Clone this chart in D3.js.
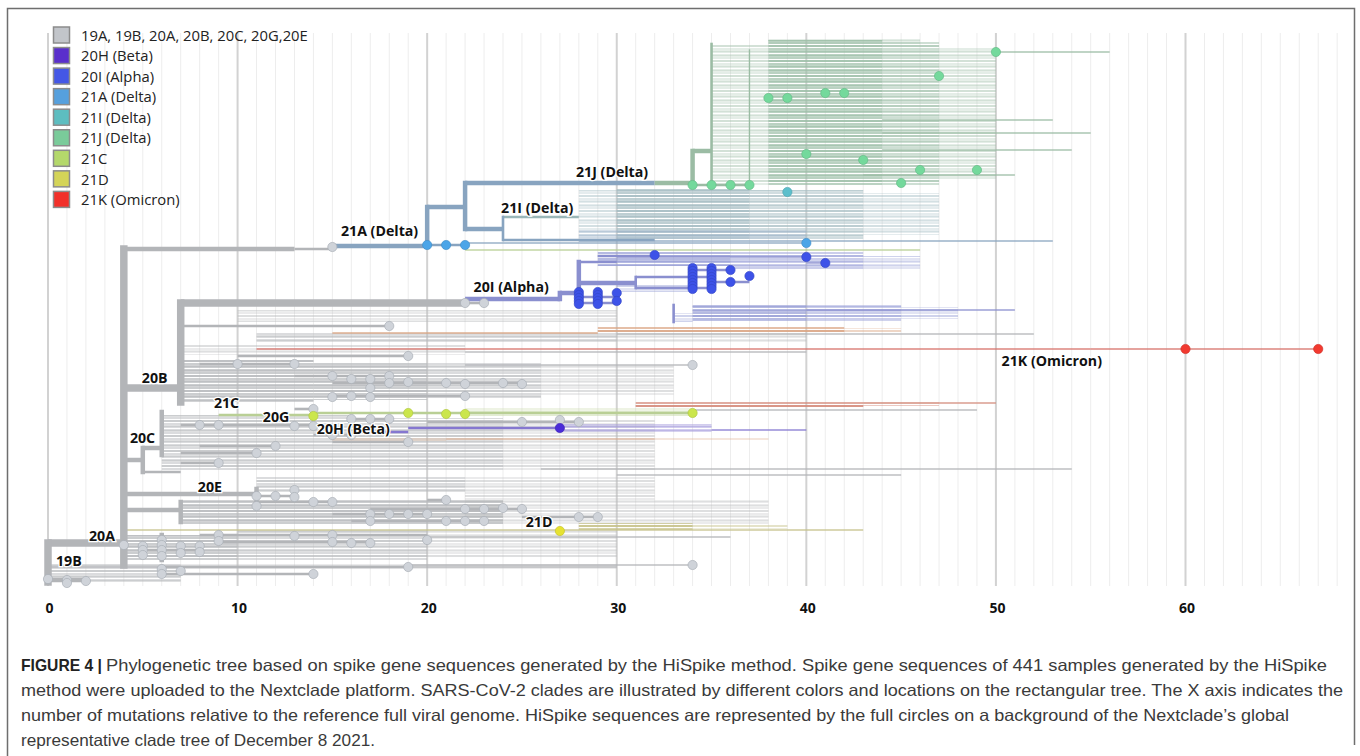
<!DOCTYPE html>
<html><head><meta charset="utf-8">
<script src="https://cdn.jsdelivr.net/npm/d3@7"></script>
<style>body{margin:0;background:#fff}svg{display:block}</style>
</head><body><svg id="c" width="1360" height="756"></svg>
<script>
// ---------------- DATA ----------------
const legendLabels = ["19A, 19B, 20A, 20B, 20C, 20G,20E","20H (Beta)","20I (Alpha)","21A (Delta)","21I (Delta)","21J (Delta)","21C","21D","21K (Omicron)"];
const legendClades = ["base","20H","20I","21A","21I","21J","21C","21D","21K"];
const xTicks = [0,10,20,30,40,50,60];

// horizontal branches: [clade, x0 (mutations), x1, row, rank]
const stems = [
 ["base",0,4,513,1],["base",0,2,550,2],["base",0,30,537,4],["base",6,14,544,3],["base",6,19,537,3],["base",19,34,535,4],
 ["base",4,13,219,2],["base",13,15,219,3],["base",4,7,358,1],["base",7,22,273,1],["base",22,23,273,3],
 ["base",4,5,430,2],["base",5,6,418,2],["base",5,7,442,3],["base",4,11,464,2],["base",4,7,480,2],
 ["base",7,18,296,3],["base",10,19,326,3],["base",8,13,334,3],["base",13,18,346,3],["base",15,25,353,3],["base",15,22,366,3],["base",22,34,335,4],
 ["base",7,14,395,3],["base",14,16,405,3],["base",15,19,412,3],["base",20,28,392,3],["base",8,12,416,3],["base",7,11,423,3],["base",7,9,433,3],["base",13,14,379,3],["base",16,18,389,3],
 ["base",11,13,466,3],["base",11,15,472,3],["base",17,25,479,3],["base",15,20,484,3],["base",16,23,491,3],["base",25,29,487,3],["base",20,21,470,3],
 ["base",8,20,505,3],["base",9,17,512,3],["base",5,8,520,3],
 ["base",30,52,304,4],["base",22,40,322,4],["base",34,49,380,4],["base",26,54,439,4],["base",30,45,445,4],["base",20,36,507,4],
 ["21A",15,20,216,2],["21A",20,22,177,2],["21A",22,32,153,2],["21A",22,24,199,2],["21A",20,22,215,3],["21A",22,40,213,4],["21A",24,32,210,3],["21A",28,53,211,4],
 ["21I",24,28,187,3],
 ["21J",32,34,153,2],["21J",34,35,121,2],["21J",34,37,155,3],["21J",50,56,22,4],["21J",44,53,90,4],["21J",44,55,103,4],["21J",44,54,120,4],["21J",43,51,145,4],
 ["21C",22,46,220,4],["21C",9,14,385,3],["21C",14,34,383,3],
 ["20I",22,27,269,2],["20I",27,28,263,2],["20I",28,30,267,3],["20I",28,30,273,3],["20I",28,30,232,3],["20I",29,32,226,3],["20I",28,31,253,2],
 ["20I",31,35,247,3],["20I",31,35,258,3],["20I",34,36,240,3],["20I",35,37,252,3],["20I",40,41,233,4],["20I",40,51,280,4],["20I",30,40,227,4],
 ["20H",16,19,402,3],["20H",19,27,398,3],["20H",35,40,400,4],
 ["21D",4,43,500,4],
 ["21K",11,55,319,4],["21K",55,67,319,4],
 ["20J",15,29,303,4],["21B",43,50,373,4]
];
// vertical links: [clade, x, row0, row1, rank]
const links = [
 ["base",0,513,552,1],["base",4,219,535,1],["base",7,273,372,1],["base",5,418,442,2],["base",6,382,425,2],
 ["base",7,472,492,2],["base",11,459,476,2],["base",6,505,530,2],
 ["21A",20,177,216,2],["21A",22,153,199,2],["21A",24,187,210,3],
 ["21J",34,121,155,2],["21J",35,14,155,3],["21J",37,20,150,4],
 ["20I",27,263,269,2],["20I",28,232,273,2],["20I",31,247,258,3],["20I",33,275,292,3]
];
// dense tip bundles: [clade, x0, x1, row0, row1, density 1..3]
const bundles = [
 ["base",7,14,330,372,3],["base",14,20,332,370,3],["base",20,26,333,368,2],["base",26,33,335,365,1],
 ["base",10,30,280,292,1],["base",11,30,303,312,2],["base",30,40,303,312,1],["base",7,22,315,325,1],
 ["base",6,16,385,440,2],["base",16,24,388,440,2],["base",24,32,390,440,1],
 ["base",11,22,447,462,2],["base",7,24,470,495,3],["base",22,32,447,495,1],["base",32,38,470,495,1],
 ["base",4,10,505,530,3],["base",10,20,500,530,2],["base",20,30,500,528,1],["base",0,7,533,552,2],["base",7,30,533,540,1],
 ["21J",35,38,14,155,1],["21J",38,44,10,155,3],["21J",44,47,12,155,2],["21J",47,50,18,150,1],["21J",38,46,8,14,1],
 ["21I",28,30,160,208,1],["21I",30,37,158,210,3],["21I",37,43,160,210,2],["21I",43,47,163,205,1],
 ["21A",28,40,200,210,1],
 ["20I",29,36,222,236,3],["20I",36,43,222,240,2],["20I",43,46,226,240,1],["20I",30,34,254,262,1],["20I",33,34,283,292,1],
 ["20I",34,40,275,291,3],["20I",40,45,275,291,2],["20I",45,48,277,289,1],
 ["20J",29,42,297,303,3],["20J",42,45,298,302,1],["20J",15,21,407,411,1],["20J",21,32,407,410,2],["20J",32,38,408,410,1],
 ["21B",31,43,372,377,3],["21B",43,47,372,376,1],
 ["20H",27,35,394,402,2],["21C",22,34,378,386,1],
 ["21D",28,34,493,500,3],["21D",34,39,494,499,1]
];
// HiSpike samples: [clade, x, row]
const samples = [
 ["base",15,217],["base",22,273],["base",23,273],
 ["base",18,296],["base",19,326],["base",10,334],["base",13,334],["base",15,346],["base",16,349],["base",17,349],["base",18,346],["base",18,353],["base",19,352],["base",21,353],["base",22,354],["base",24,353],["base",25,354],["base",15,367],["base",16,366],["base",17,367],["base",22,366],["base",17,358],["base",34,335],
 ["base",14,379],["base",8,395],["base",9,395],["base",13,396],["base",14,396],["base",16,389],["base",17,389],["base",18,389],["base",15,405],["base",16,405],["base",19,412],["base",25,392],["base",27,390],["base",28,392],["base",12,416],["base",11,423],["base",9,433],
 ["base",11,466],["base",12,466],["base",13,460],["base",13,467],["base",11,476],["base",14,472],["base",15,472],["base",21,470],["base",22,479],["base",23,479],["base",24,478],["base",25,479],["base",17,484],["base",18,484],["base",19,484],["base",20,484],["base",17,491],["base",21,491],["base",22,491],["base",23,491],["base",28,487],["base",29,487],
 ["base",4,515],["base",5,516],["base",5,520],["base",5,525],["base",6,510],["base",6,515],["base",6,520],["base",6,526],["base",7,516],["base",7,523],["base",8,516],["base",8,522],["base",9,505],["base",9,511],["base",13,506],["base",15,505],["base",15,512],["base",16,513],["base",17,513],["base",20,510],
 ["base",6,539],["base",6,544],["base",7,541],["base",14,544],["base",19,537],["base",34,535],["base",0,549],["base",1,550],["base",1,553],["base",2,551],
 ["21A",20,215],["21A",21,215],["21A",22,215],["21A",40,213],
 ["21I",39,162],
 ["21J",50,22],["21J",47,46],["21J",38,68],["21J",39,68],["21J",41,63],["21J",42,63],["21J",40,124],["21J",43,130],["21J",46,140],["21J",49,140],["21J",45,153],["21J",34,155],["21J",35,155],["21J",36,155],["21J",37,155],
 ["20I",28,262],["20I",28,265],["20I",28,268],["20I",28,271],["20I",28,274],["20I",29,262],["20I",29,265],["20I",29,268],["20I",29,271],["20I",29,274],["20I",30,263],["20I",30,271],
 ["20I",34,238],["20I",34,241],["20I",34,244],["20I",34,247],["20I",34,250],["20I",34,253],["20I",34,256],["20I",34,259],
 ["20I",35,238],["20I",35,241],["20I",35,244],["20I",35,247],["20I",35,250],["20I",35,253],["20I",35,256],["20I",35,259],
 ["20I",36,240],["20I",36,252],["20I",37,246],["20I",32,225],["20I",40,227],["20I",41,233],
 ["20H",27,398],
 ["21C",14,386],["21C",19,383],["21C",21,384],["21C",22,384],["21C",34,383],
 ["21D",27,501],
 ["21K",60,319],["21K",67,319]
];
// clade labels: [text, x (left, mutations), row]
const cladeLabels = [
 ["21J (Delta)",27.85,142],["21I (Delta)",23.9,178],["21A (Delta)",15.45,201],["20I (Alpha)",22.45,257],
 ["21K (Omicron)",50.3,331],["20B",4.95,348],["21C",8.75,373],["20G",11.33,387],["20H (Beta)",14.18,399],
 ["20C",4.32,408],["20E",7.9,457],["21D",25.2,492],["20A",2.16,506],["19B",0.42,531]
];
const captionBold = "FIGURE 4 |";
const captionLines = [
 "Phylogenetic tree based on spike gene sequences generated by the HiSpike method. Spike gene sequences of 441 samples generated by the HiSpike",
 "method were uploaded to the Nextclade platform. SARS-CoV-2 clades are illustrated by different colors and locations on the rectangular tree. The X axis indicates the",
 "number of mutations relative to the reference full viral genome. HiSpike sequences are represented by the full circles on a background of the Nextclade\u2019s global",
 "representative clade tree of December 8 2021."
];

// ---------------- STYLE ----------------
const legendColor = {base:"#c2c5ca","20H":"#5a2fcc","20I":"#4457e6","21A":"#56a0dd","21I":"#5dbdc0","21J":"#7acb9a","21C":"#b4d86b","21D":"#d4d458","21K":"#f2302a"};
const branchColor = {base:"#b3b5b8","20H":"#8577d0","20I":"#8a8fcf","21A":"#88a4c0","21I":"#9ab7b9","21J":"#9bbca4","21C":"#b9cf95","21D":"#c6c28a","21K":"#d77068","20J":"#d9a27e","21B":"#d48c7c"};
const bundleColor = {base:"#b7b9bc","21J":"#9dbfa8","21I":"#a3bbc1","21A":"#9cb0cf","20I":"#979dd6","20J":"#daa583","21B":"#d48a7a","20H":"#a49bdc","21C":"#c2d6a0","21D":"#c6c288"};
const pointFill = {base:"#cfd3d9","20H":"#4a2bd8","20I":"#3d52e8","21A":"#4ba5e8","21I":"#5cbfcc","21J":"#74d99c","21C":"#cbe64c","21D":"#e6e232","21K":"#f23a30"};
const rankWidth = {1:7.5,2:4.5,3:2.6,4:1.4};
const densityOpacity = {1:0.32,2:0.58,3:0.82};

const svg = d3.select("#c");
const x = d3.scaleLinear().domain([0,60]).range([48,1185.5]);
const y = d3.scaleLinear().domain([0,560]).range([30,590]);

// frame
svg.append("path").attr("d","M7.5,756V8.5H1354.5V745").attr("fill","none").attr("stroke","#6e6e6e").attr("stroke-width",1.5);

// grid
const gridTop = 33, gridBot = 586;
svg.append("g").selectAll("line").data(d3.range(0,69)).join("line")
 .attr("x1",d=>x(d)).attr("x2",d=>x(d)).attr("y1",gridTop).attr("y2",gridBot)
 .attr("stroke",d=>d%10===0?"#d2d2d2":"#ededed").attr("stroke-width",d=>d%10===0?2:1);

// patterns for bundles: two interleaved stripe periods give an irregular look
const defs = svg.append("defs");
const periods = [[3,2,0.62],[5,2,0.55]];
Object.keys(bundleColor).forEach(c=>{
  [1,2,3].forEach(dn=>{
    periods.forEach(([h,lh,f],k)=>{
      const p = defs.append("pattern").attr("id",`p-${c}-${dn}-${k}`).attr("patternUnits","userSpaceOnUse")
        .attr("width",10).attr("height",h);
      p.append("rect").attr("width",10).attr("height",lh).attr("fill",bundleColor[c]).attr("opacity",densityOpacity[dn]*f*1.4);
    });
  });
});
const order = c => c==="base"?0:1;
const bg = svg.append("g");
const bsorted = bundles.slice().sort((a,b)=>order(a[0])-order(b[0]));
bsorted.forEach(d=>{
  periods.forEach((_,k)=>{
    bg.append("rect").attr("x",x(d[1])).attr("width",x(d[2])-x(d[1]))
      .attr("y",y(d[3])).attr("height",y(d[4])-y(d[3]))
      .attr("fill",`url(#p-${d[0]}-${d[5]}-${k})`);
  });
});

// branches
const sorted = (arr,ri)=>arr.slice().sort((a,b)=>(b[ri]-a[ri]) || (order(a[0])-order(b[0])));
const tg = svg.append("g");
tg.selectAll("line.s").data(sorted(stems,4)).join("line")
 .attr("x1",d=>x(d[1])).attr("x2",d=>x(d[2])).attr("y1",d=>y(d[3])).attr("y2",d=>y(d[3]))
 .attr("stroke",d=>branchColor[d[0]]).attr("stroke-width",d=>rankWidth[d[4]])
 .attr("opacity",d=>d[4]===4?0.85:1);
tg.selectAll("line.l").data(sorted(links,4)).join("line")
 .attr("x1",d=>x(d[1])).attr("x2",d=>x(d[1])).attr("y1",d=>y(d[2])).attr("y2",d=>y(d[3]))
 .attr("stroke",d=>branchColor[d[0]]).attr("stroke-width",d=>rankWidth[d[4]]).attr("stroke-linecap","square");

// samples
svg.append("g").selectAll("circle").data(samples.slice().sort((a,b)=>order(a[0])-order(b[0]))).join("circle")
 .attr("cx",d=>x(d[1])).attr("cy",d=>y(d[2])).attr("r",4.6)
 .attr("fill",d=>pointFill[d[0]])
 .attr("stroke",d=>d[0]==="base"?"#a9afb7":d3.color(pointFill[d[0]]).darker(0.4))
 .attr("stroke-width",1).attr("stroke-opacity",0.7);

// clade labels
svg.append("g").selectAll("text").data(cladeLabels).join("text")
 .attr("x",d=>x(d[1])).attr("y",d=>y(d[2])).attr("dy","0.35em")
 .attr("font-family","'Open Sans', sans-serif").attr("font-weight",700).attr("font-size",14.2)
 .attr("fill","#111").attr("stroke","#fff").attr("stroke-width",2.5).attr("paint-order","stroke")
 .text(d=>d[0]);

// x axis labels
svg.append("g").selectAll("text").data(xTicks).join("text")
 .attr("x",d=>x(d)+1.5).attr("y",608).attr("dy","0.35em").attr("text-anchor","middle")
 .attr("font-family","'Open Sans', sans-serif").attr("font-weight",700).attr("font-size",14).attr("fill","#111")
 .text(d=>d);

// legend
const lg = svg.append("g");
legendLabels.forEach((t,i)=>{
  const cy = 35.5 + i*20.55;
  lg.append("rect").attr("x",53.5).attr("y",cy-8.5).attr("width",16).attr("height",16)
    .attr("fill",legendColor[legendClades[i]]).attr("stroke","#8c8c8c").attr("stroke-width",1.5);
  lg.append("text").attr("x",81).attr("y",cy).attr("dy","0.35em")
    .attr("font-family","'Open Sans', sans-serif").attr("font-size",14.8).attr("fill","#222").text(t);
});

// caption
const capFont = "'Liberation Sans Narrow','Liberation Sans',Arial,sans-serif";
const capBase = [671,696,721,746];
const capStart = [106,21,21,21];
const capEnd = [1327,1343,1289,375];
svg.append("text").attr("x",21).attr("y",capBase[0]).attr("font-family",capFont).attr("font-weight",700)
 .attr("font-size",16.5).attr("fill","#222").attr("textLength",81).attr("lengthAdjust","spacingAndGlyphs").text(captionBold);
captionLines.forEach((t,i)=>{
  svg.append("text").attr("x",capStart[i]).attr("y",capBase[i]).attr("font-family",capFont)
   .attr("font-size",16.5).attr("fill","#3a3a3a")
   .attr("textLength",capEnd[i]-capStart[i]).attr("lengthAdjust","spacingAndGlyphs").text(t);
});
</script></body></html>
